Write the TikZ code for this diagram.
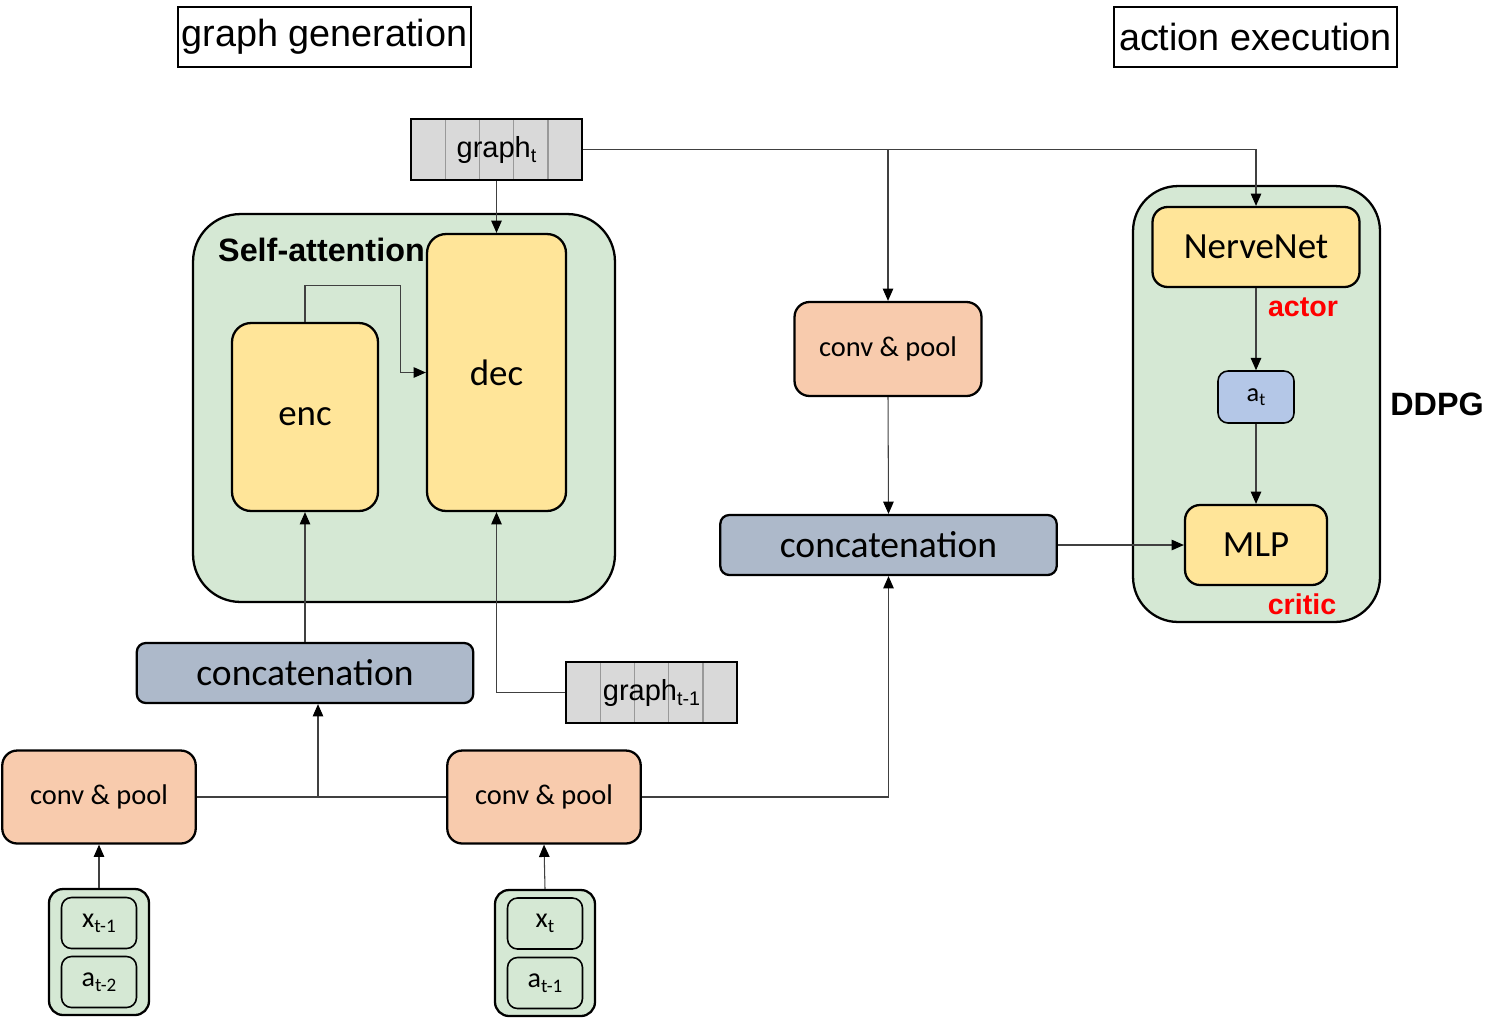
\documentclass[tikz,border=0pt]{standalone}
\usepackage{fontspec}
\setmainfont{Carlito}
\newfontfamily\arialfont{Liberation Sans}
\usetikzlibrary{arrows.meta, calc}

\definecolor{groupgreen}{HTML}{D5E8D4}
\definecolor{nnyellow}{HTML}{FFE599}
\definecolor{convpeach}{HTML}{F8CBAD}
\definecolor{catblue}{HTML}{ADB9CA}
\definecolor{actblue}{HTML}{B4C7E7}
\definecolor{graphgray}{HTML}{D9D9D9}

\newcommand{\lowsub}[1]{\raisebox{-0.35ex}{\fontsize{0.68em}{1em}\selectfont #1}}

\begin{document}
\begin{tikzpicture}[
    x=0.02cm, y=-0.02cm,
    >={Triangle[length=7pt, width=6pt, color=black]},
    box/.style={draw, line width=1.3pt, align=center, inner sep=0pt},
    titlebox/.style={draw, line width=0.9pt, minimum height=1.2cm, inner sep=0pt, font=\arialfont\fontsize{21.5}{24}\selectfont},
    groupbox/.style={box, fill=groupgreen, rounded corners=0.95cm},
    nnbox/.style={box, fill=nnyellow, rounded corners=0.38cm, font=\fontsize{21}{25}\selectfont},
    convbox/.style={box, fill=convpeach, rounded corners=0.3cm, minimum width=3.87cm, minimum height=1.86cm, font=\fontsize{16.2}{19}\selectfont},
    catbox/.style={box, fill=catblue, rounded corners=0.18cm, minimum width=6.73cm, minimum height=1.2cm, font=\fontsize{21.4}{25}\selectfont},
    graphbox/.style={draw, line width=1pt, fill=graphgray, minimum width=3.42cm, minimum height=1.22cm, inner sep=0pt,
        font=\arialfont\fontsize{16.5}{18}\selectfont,
        path picture={\foreach \k in {1,...,4}
            \draw[black!40, line width=0.8pt]
                ($(path picture bounding box.north west)!{\k/5}!(path picture bounding box.north east)$) --
                ($(path picture bounding box.south west)!{\k/5}!(path picture bounding box.south east)$);}},
    inbox/.style={box, fill=groupgreen, rounded corners=0.28cm, minimum width=2cm, minimum height=2.52cm},
    cellbox/.style={draw, line width=0.9pt, rounded corners=0.2cm, minimum width=1.5cm, minimum height=1.02cm, inner sep=0pt, font=\fontsize{16}{19}\selectfont},
    arrow/.style={->, line width=0.6pt, draw=black!75},
    link/.style={line width=0.6pt, draw=black!75},
    redlbl/.style={text=red, font=\arialfont\bfseries\fontsize{16.3}{19}\selectfont},
    boldlbl/.style={font=\arialfont\bfseries\fontsize{18.4}{22}\selectfont}
]
\useasboundingbox (0,0) rectangle (1506,1018);

% titles
\node[titlebox, minimum width=5.86cm] (gen) at (324.5,37) {graph generation};
\node[titlebox, minimum width=5.66cm] (exec) at (1255.5,37) {action execution};

% graph generation part
\node[graphbox] (gt) at (496.5,149.5) {graph\lowsub{t}};
\node[groupbox, minimum width=8.44cm, minimum height=7.76cm] (attn) at (404,408) {};
\node[boldlbl, anchor=west] (attnlbl) at (212,250) {Self-attention};
\node[nnbox, minimum width=2.92cm, minimum height=3.76cm] (enc) at (305,417) {\raisebox{-0.2ex}{enc}};
\node[nnbox, minimum width=2.78cm, minimum height=5.54cm] (dec) at (496.5,372.5) {dec};
\node[catbox] (catL) at (305,673) {concatenation};
\node[graphbox] (gt1) at (651.5,692.5) {graph\lowsub{t-1}};

\node[convbox] (convA) at (99,797) {conv \& pool};
\node[convbox] (convB) at (544,797) {conv \& pool};

\node[inbox] (inA) at (99,952) {};
\node[cellbox] (xA) at (99,923) {x\lowsub{t-1}};
\node[cellbox] (aA) at (99,982) {a\lowsub{t-2}};
\node[inbox] (inB) at (545,953) {};
\node[cellbox] (xB) at (545,923.5) {x\lowsub{t}};
\node[cellbox] (aB) at (545,983) {a\lowsub{t-1}};

% action execution part
\node[convbox, minimum width=3.74cm, minimum height=1.88cm] (convC) at (888,349) {conv \& pool};
\node[catbox] (catR) at (888.5,545) {concatenation};

\node[groupbox, rounded corners=0.9cm, minimum width=4.94cm, minimum height=8.72cm] (ddpg) at (1256.5,404) {};
\node[nnbox, rounded corners=0.3cm, minimum width=4.14cm, minimum height=1.6cm] (nerve) at (1256,247) {NerveNet};
\node[box, fill=actblue, rounded corners=0.2cm, line width=0.9pt, minimum width=1.52cm, minimum height=1.04cm, font=\fontsize{15}{17}\selectfont] (at) at (1256,397) {a\lowsub{t}};
\node[nnbox, rounded corners=0.3cm, minimum width=2.84cm, minimum height=1.6cm] (mlp) at (1256,545) {MLP};
\node[redlbl] (actor) at (1303,307) {actor};
\node[redlbl] (critic) at (1302,604) {critic};
\node[boldlbl] (ddpglbl) at (1437,404) {DDPG};

% connectors
\coordinate (split) at (gt.east -| convC.north);
\draw[arrow] (gt.east) -| (nerve.north);
\draw[arrow] (split) -- (convC.north);
\draw[arrow] (gt.south) -- (dec.north);
\draw[arrow] (enc.north) -- ++(0,-36) -| ([xshift=-0.5cm]dec.west) -- (dec.west);
\draw[arrow] (catL.north) -- (enc.south);
\draw[arrow] (gt1.west) -| (dec.south);

\coordinate (merge) at (318,797);
\draw[link] (convA.east) -- (convB.west);
\draw[arrow] (merge) -- (merge |- catL.south);
\draw[arrow] (convB.east) -| (catR.south);
\draw[arrow] (inA.north) -- (convA.south);
\draw[arrow] (inB.north) -- (convB.south);

\draw[arrow] (convC.south) -- (catR.north);
\draw[arrow] (catR.east) -- (mlp.west);
\draw[arrow] (nerve.south) -- (at.north);
\draw[arrow] (at.south) -- (mlp.north);
\end{tikzpicture}
\end{document}
